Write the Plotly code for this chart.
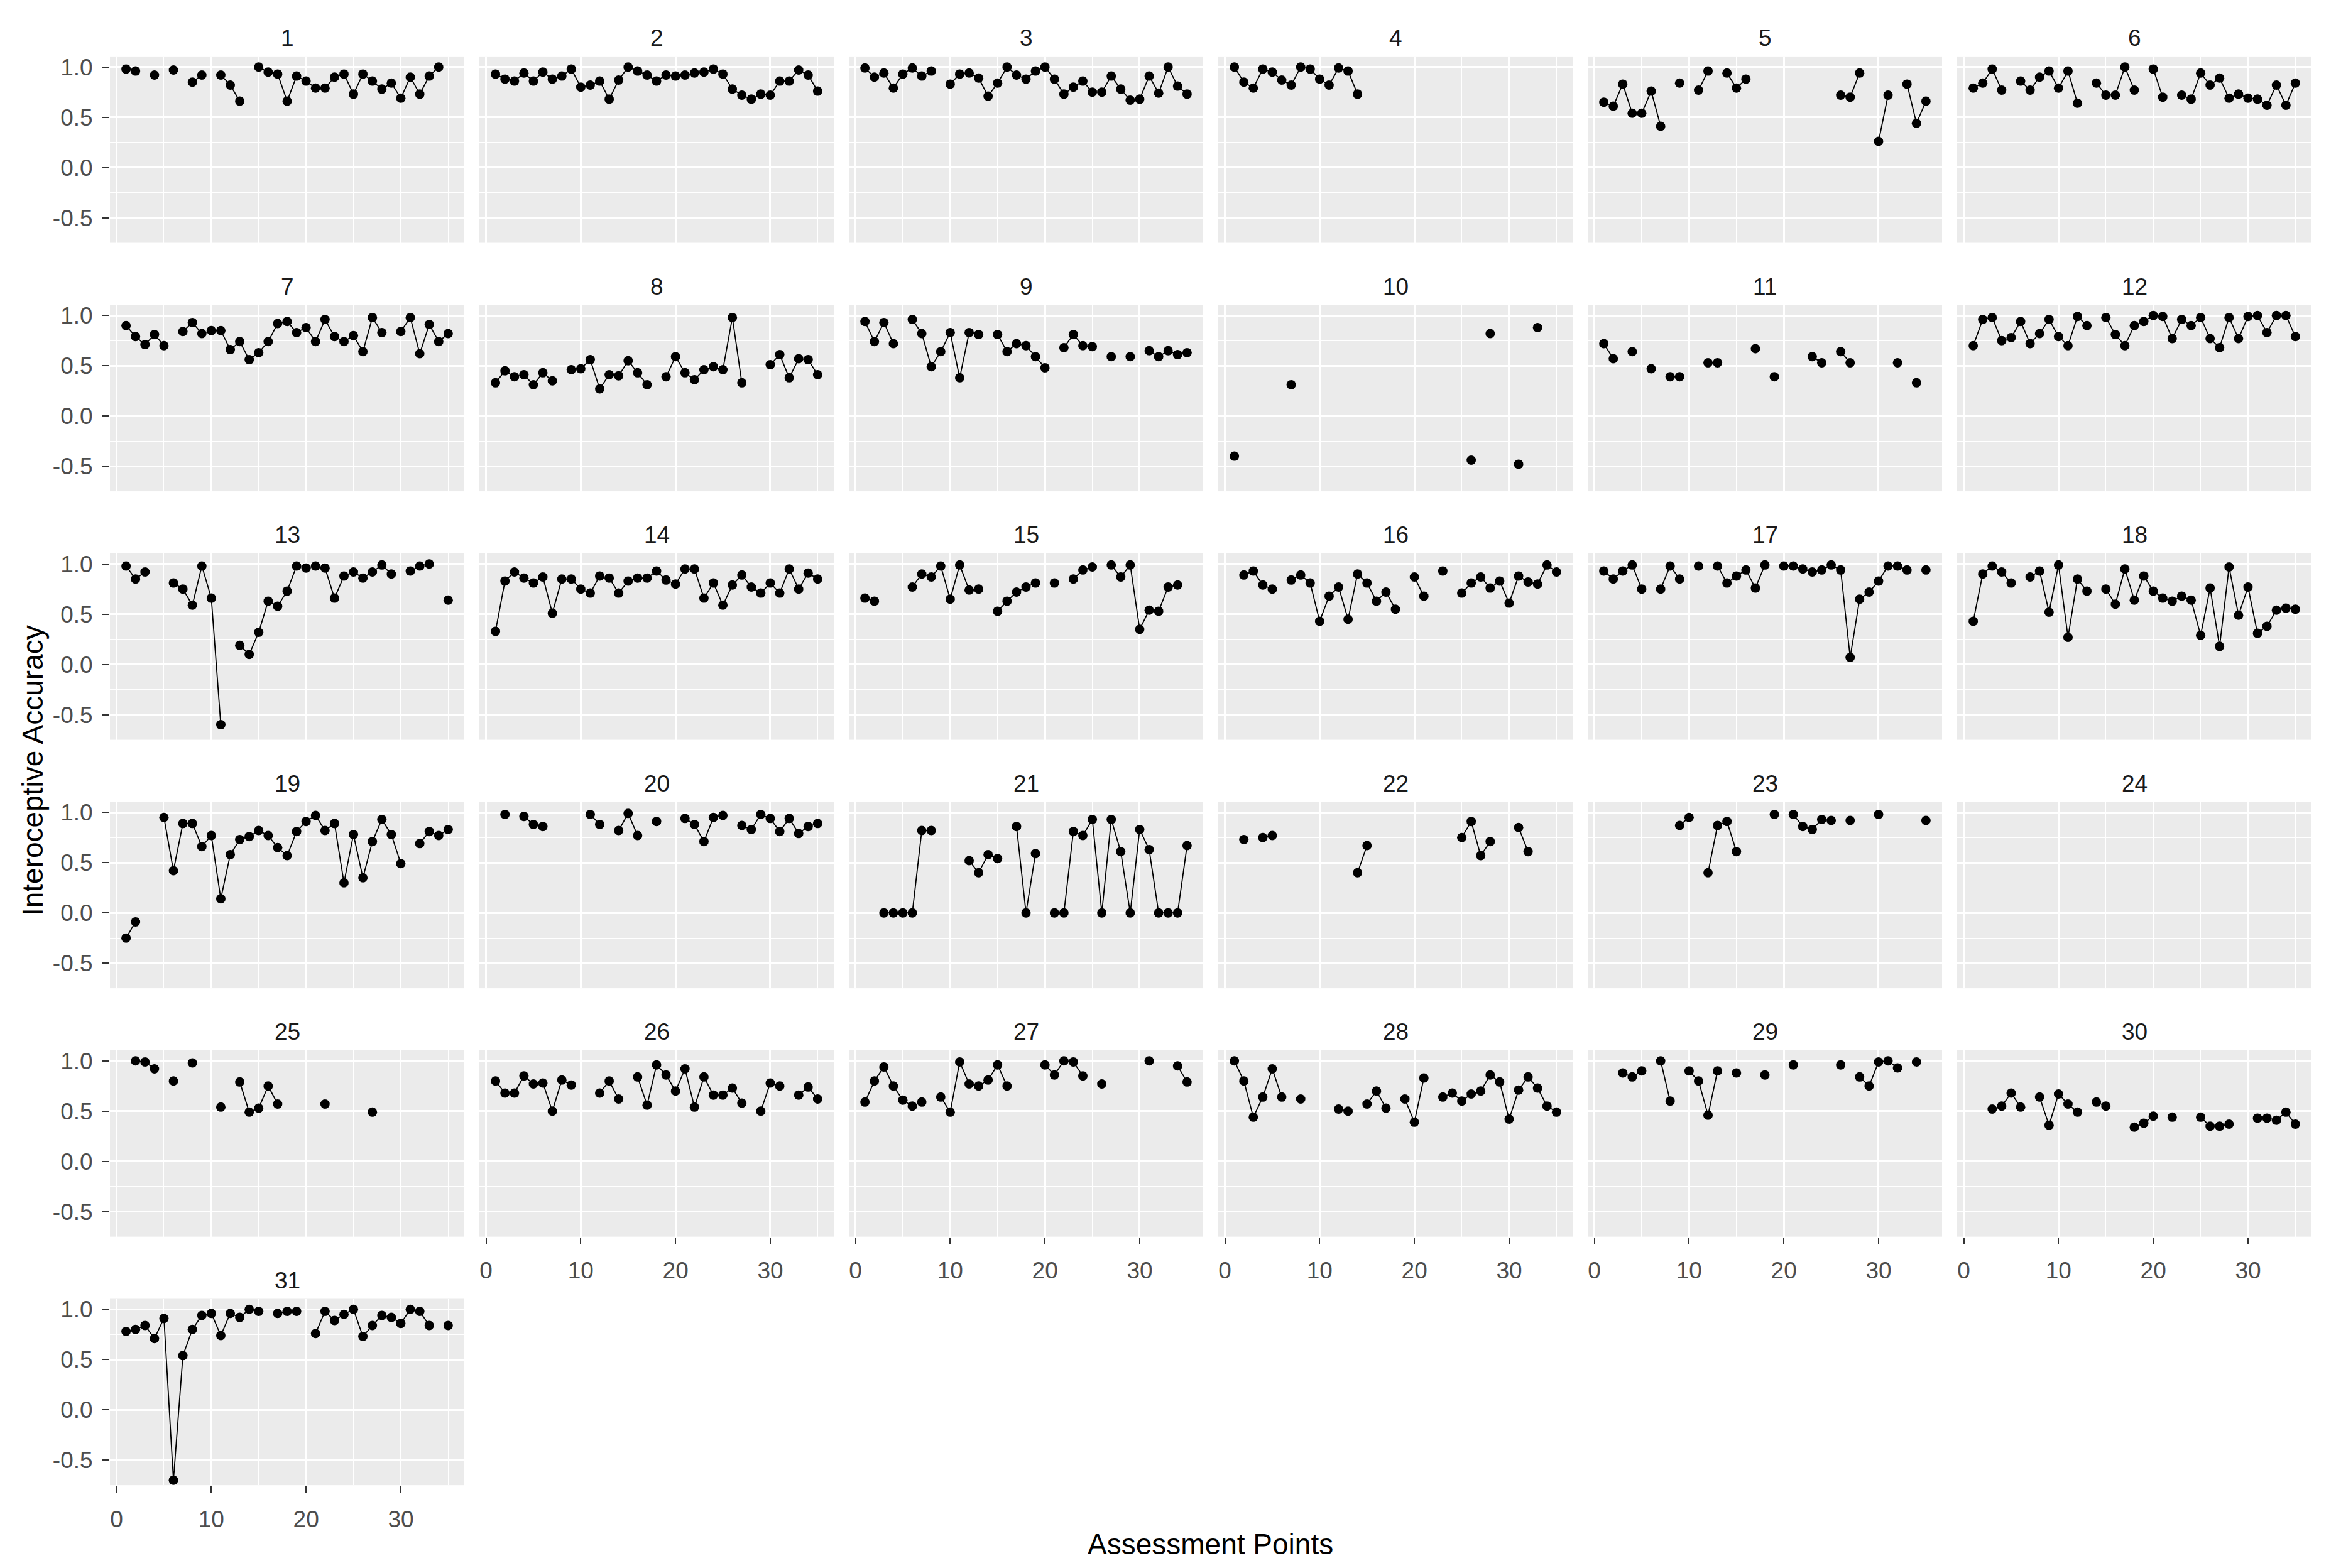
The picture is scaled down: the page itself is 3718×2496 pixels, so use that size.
import plotly.graph_objects as go

N = None

# assessment points 1..35 (x of every panel)
assessment_points = list(range(1, 36))
panel_labels = [str(i) for i in range(1, 32)]
x_ticks = [0, 10, 20, 30]
y_ticks = [-0.5, 0.0, 0.5, 1.0]
y_tick_text = ["-0.5", "0.0", "0.5", "1.0"]

# interoceptive accuracy per participant, one value per assessment point (None = missing)
p01 = [0.98, 0.96, N, 0.92, N, 0.97, N, 0.85, 0.92, N,
       0.92, 0.82, 0.66, N, 1.00, 0.95, 0.93, 0.66, 0.91, 0.86,
       0.79, 0.79, 0.90, 0.93, 0.73, 0.93, 0.86, 0.78, 0.84, 0.69,
       0.90, 0.73, 0.91, 1.00, N]
p02 = [0.93, 0.88, 0.86, 0.94, 0.86, 0.95, 0.88, 0.91, 0.98, 0.80,
       0.82, 0.86, 0.68, 0.87, 1.00, 0.96, 0.92, 0.86, 0.92, 0.91,
       0.92, 0.94, 0.95, 0.98, 0.93, 0.78, 0.72, 0.68, 0.73, 0.72,
       0.86, 0.86, 0.97, 0.92, 0.76]
p03 = [0.99, 0.90, 0.94, 0.79, 0.93, 0.99, 0.91, 0.96, N, 0.83,
       0.93, 0.94, 0.89, 0.71, 0.84, 1.00, 0.92, 0.88, 0.96, 1.00,
       0.88, 0.73, 0.80, 0.86, 0.75, 0.75, 0.91, 0.78, 0.67, 0.68,
       0.91, 0.74, 1.00, 0.81, 0.73]
p04 = [1.00, 0.85, 0.79, 0.98, 0.95, 0.87, 0.82, 1.00, 0.98, 0.88,
       0.82, 0.99, 0.96, 0.73, N, N, N, N, N, N,
       N, N, N, N, N, N, N, N, N, N,
       N, N, N, N, N]
p05 = [0.65, 0.61, 0.83, 0.54, 0.54, 0.76, 0.41, N, 0.84, N,
       0.77, 0.96, N, 0.94, 0.79, 0.88, N, N, N, N,
       N, N, N, N, N, 0.72, 0.70, 0.94, N, 0.26,
       0.72, N, 0.83, 0.44, 0.66]
p06 = [0.79, 0.84, 0.98, 0.77, N, 0.86, 0.77, 0.90, 0.96, 0.79,
       0.96, 0.64, N, 0.84, 0.72, 0.72, 1.00, 0.77, N, 0.98,
       0.70, N, 0.72, 0.68, 0.94, 0.82, 0.89, 0.69, 0.73, 0.69,
       0.68, 0.62, 0.82, 0.62, 0.84]
p07 = [0.90, 0.79, 0.71, 0.81, 0.70, N, 0.84, 0.93, 0.82, 0.85,
       0.85, 0.66, 0.74, 0.56, 0.63, 0.74, 0.92, 0.94, 0.83, 0.88,
       0.74, 0.96, 0.79, 0.74, 0.80, 0.64, 0.98, 0.83, N, 0.84,
       0.98, 0.62, 0.91, 0.74, 0.82]
p08 = [0.33, 0.45, 0.39, 0.41, 0.31, 0.43, 0.35, N, 0.46, 0.47,
       0.56, 0.27, 0.41, 0.40, 0.55, 0.43, 0.31, N, 0.39, 0.59,
       0.43, 0.36, 0.46, 0.49, 0.46, 0.98, 0.33, N, N, 0.51,
       0.61, 0.38, 0.57, 0.56, 0.41]
p09 = [0.94, 0.74, 0.93, 0.72, N, 0.96, 0.82, 0.49, 0.64, 0.83,
       0.38, 0.83, 0.81, N, 0.81, 0.64, 0.72, 0.70, 0.59, 0.48,
       N, 0.68, 0.81, 0.70, 0.69, N, 0.59, N, 0.59, N,
       0.65, 0.59, 0.65, 0.61, 0.63]
p10 = [-0.40, N, N, N, N, N, 0.31, N, N, N,
       N, N, N, N, N, N, N, N, N, N,
       N, N, N, N, N, -0.44, N, 0.82, N, N,
       -0.48, N, 0.88, N, N]
p11 = [0.72, 0.57, N, 0.64, N, 0.47, N, 0.39, 0.39, N,
       N, 0.53, 0.53, N, N, N, 0.67, N, 0.39, N,
       N, N, 0.59, 0.53, N, 0.64, 0.53, N, N, N,
       N, 0.53, N, 0.33, N]
p12 = [0.70, 0.96, 0.98, 0.75, 0.78, 0.94, 0.72, 0.82, 0.96, 0.79,
       0.70, 0.99, 0.90, N, 0.98, 0.81, 0.70, 0.90, 0.94, 1.00,
       0.99, 0.77, 0.96, 0.90, 0.98, 0.77, 0.68, 0.98, 0.77, 0.99,
       1.00, 0.83, 1.00, 1.00, 0.79]
p13 = [0.98, 0.85, 0.92, N, N, 0.81, 0.75, 0.59, 0.98, 0.66,
       -0.60, N, 0.19, 0.10, 0.32, 0.63, 0.58, 0.73, 0.98, 0.96,
       0.98, 0.96, 0.66, 0.88, 0.92, 0.86, 0.92, 0.99, 0.90, N,
       0.93, 0.98, 1.00, N, 0.64]
p14 = [0.33, 0.83, 0.92, 0.86, 0.81, 0.87, 0.51, 0.85, 0.85, 0.75,
       0.71, 0.88, 0.86, 0.71, 0.83, 0.86, 0.86, 0.93, 0.84, 0.80,
       0.95, 0.95, 0.66, 0.81, 0.59, 0.79, 0.89, 0.77, 0.71, 0.81,
       0.71, 0.95, 0.75, 0.91, 0.85]
p15 = [0.66, 0.63, N, N, N, 0.77, 0.90, 0.87, 0.98, 0.65,
       0.99, 0.74, 0.75, N, 0.53, 0.63, 0.72, 0.77, 0.81, N,
       0.81, N, 0.85, 0.94, 0.97, N, 0.99, 0.87, 0.99, 0.35,
       0.54, 0.53, 0.77, 0.79, N]
p16 = [N, 0.89, 0.93, 0.79, 0.75, N, 0.84, 0.89, 0.81, 0.43,
       0.68, 0.77, 0.45, 0.90, 0.81, 0.63, 0.72, 0.55, N, 0.87,
       0.68, N, 0.93, N, 0.71, 0.81, 0.87, 0.76, 0.83, 0.61,
       0.88, 0.82, 0.80, 0.99, 0.92]
p17 = [0.93, 0.85, 0.93, 0.99, 0.75, N, 0.75, 0.98, 0.85, N,
       0.98, N, 0.98, 0.81, 0.88, 0.94, 0.76, 0.99, N, 0.98,
       0.98, 0.95, 0.92, 0.94, 0.99, 0.94, 0.07, 0.65, 0.72, 0.83,
       0.98, 0.98, 0.94, N, 0.94]
p18 = [0.43, 0.90, 0.98, 0.92, 0.81, N, 0.87, 0.93, 0.52, 0.99,
       0.27, 0.85, 0.73, N, 0.75, 0.60, 0.95, 0.64, 0.88, 0.73,
       0.66, 0.63, 0.68, 0.64, 0.29, 0.76, 0.18, 0.97, 0.49, 0.77,
       0.31, 0.38, 0.54, 0.56, 0.55]
p19 = [-0.25, -0.09, N, N, 0.95, 0.42, 0.89, 0.89, 0.66, 0.77,
       0.14, 0.58, 0.73, 0.76, 0.82, 0.77, 0.65, 0.57, 0.81, 0.91,
       0.97, 0.82, 0.89, 0.30, 0.78, 0.35, 0.71, 0.93, 0.78, 0.49,
       N, 0.69, 0.81, 0.77, 0.83]
p20 = [N, 0.98, N, 0.96, 0.88, 0.86, N, N, N, N,
       0.98, 0.88, N, 0.82, 0.99, 0.77, N, 0.91, N, N,
       0.94, 0.88, 0.71, 0.95, 0.97, N, 0.87, 0.83, 0.98, 0.94,
       0.81, 0.94, 0.79, 0.86, 0.89]
p21 = [N, N, 0.00, 0.00, 0.00, 0.00, 0.82, 0.82, N, N,
       N, 0.52, 0.40, 0.58, 0.54, N, 0.86, 0.00, 0.59, N,
       0.00, 0.00, 0.81, 0.77, 0.93, 0.00, 0.93, 0.61, 0.00, 0.83,
       0.63, 0.00, 0.00, 0.00, 0.67]
p22 = [N, 0.73, N, 0.75, 0.77, N, N, N, N, N,
       N, N, N, 0.40, 0.67, N, N, N, N, N,
       N, N, N, N, 0.75, 0.91, 0.57, 0.71, N, N,
       0.85, 0.61, N, N, N]
p23 = [N, N, N, N, N, N, N, N, 0.87, 0.95,
       N, 0.40, 0.87, 0.91, 0.61, N, N, N, 0.98, N,
       0.98, 0.86, 0.83, 0.93, 0.92, N, 0.92, N, N, 0.98,
       N, N, N, N, 0.92]
p24 = [N] * 35
p25 = [N, 1.00, 0.99, 0.92, N, 0.80, N, 0.98, N, N,
       0.54, N, 0.79, 0.49, 0.53, 0.75, 0.57, N, N, N,
       N, 0.57, N, N, N, N, 0.49, N, N, N,
       N, N, N, N, N]
p26 = [0.80, 0.68, 0.68, 0.85, 0.77, 0.78, 0.50, 0.81, 0.76, N,
       N, 0.68, 0.80, 0.62, N, 0.84, 0.56, 0.96, 0.86, 0.70,
       0.92, 0.54, 0.84, 0.66, 0.66, 0.73, 0.58, N, 0.50, 0.78,
       0.75, N, 0.66, 0.74, 0.62]
p27 = [0.59, 0.80, 0.94, 0.75, 0.61, 0.55, 0.59, N, 0.64, 0.49,
       0.99, 0.77, 0.75, 0.81, 0.96, 0.75, N, N, N, 0.96,
       0.86, 1.00, 0.99, 0.85, N, 0.77, N, N, N, N,
       1.00, N, N, 0.95, 0.79]
p28 = [1.00, 0.80, 0.44, 0.64, 0.92, 0.64, N, 0.62, N, N,
       N, 0.52, 0.50, N, 0.57, 0.70, 0.53, N, 0.62, 0.39,
       0.83, N, 0.64, 0.68, 0.60, 0.67, 0.70, 0.86, 0.79, 0.42,
       0.71, 0.84, 0.73, 0.55, 0.49]
p29 = [N, N, 0.88, 0.84, 0.90, N, 1.00, 0.60, N, 0.90,
       0.80, 0.46, 0.90, N, 0.88, N, N, 0.86, N, N,
       0.96, N, N, N, N, 0.96, N, 0.84, 0.75, 0.99,
       1.00, 0.93, N, 0.99, N]
p30 = [N, N, 0.52, 0.55, 0.68, 0.54, N, 0.64, 0.36, 0.67,
       0.57, 0.49, N, 0.59, 0.55, N, N, 0.34, 0.38, 0.45,
       N, 0.44, N, N, 0.44, 0.35, 0.35, 0.37, N, N,
       0.43, 0.43, 0.41, 0.49, 0.37]
p31 = [0.78, 0.80, 0.84, 0.71, 0.91, -0.70, 0.54, 0.80, 0.94, 0.96,
       0.74, 0.96, 0.92, 1.00, 0.98, N, 0.96, 0.98, 0.98, N,
       0.76, 0.98, 0.89, 0.95, 1.00, 0.73, 0.84, 0.94, 0.92, 0.86,
       1.00, 0.98, 0.84, N, 0.84]

participants = [p01, p02, p03, p04, p05, p06, p07, p08, p09, p10,
                p11, p12, p13, p14, p15, p16, p17, p18, p19, p20,
                p21, p22, p23, p24, p25, p26, p27, p28, p29, p30, p31]

# the page body has an 8px margin, so the figure starts 8px in and is 16px smaller
W, H = 3702, 2480
OFF = 8
NCOL = 6
PANEL_W, PANEL_H = 564, 297
COL_STEP, ROW_STEP = 588, 396
LEFT0, TOP0 = 175 - OFF, 87 - OFF

FONT = "Liberation Sans, Arial, sans-serif"
TICK_FONT = dict(family=FONT, size=37, color="#4D4D4D")

fig = go.Figure()
annotations = []
n = len(participants)

for i, values in enumerate(participants):
    r, c = divmod(i, NCOL)
    k = i + 1
    sfx = "" if k == 1 else str(k)
    left = LEFT0 + COL_STEP * c
    top = TOP0 + ROW_STEP * r
    x_dom = [left / W, (left + PANEL_W) / W]
    y_dom = [1 - (top + PANEL_H) / H, 1 - top / H]
    bottom = i + NCOL >= n      # nothing below -> draw x axis
    first_col = c == 0

    fig.add_trace(go.Scatter(
        x=assessment_points, y=values, mode="lines+markers",
        xaxis="x" + sfx, yaxis="y" + sfx,
        line=dict(color="black", width=1.8),
        marker=dict(color="black", size=15),
        connectgaps=False, showlegend=False,
    ))

    fig.layout["xaxis" + sfx] = dict(
        domain=x_dom, anchor="y" + sfx, range=[-0.7, 36.7],
        tickvals=x_ticks, showticklabels=bottom,
        ticks="outside" if bottom else "", ticklen=11, tickwidth=2.4,
        tickcolor="#333333", ticklabelstandoff=10, tickfont=TICK_FONT,
        showgrid=True, gridcolor="white", gridwidth=2.6, zeroline=False,
        showline=False,
        minor=dict(tickvals=[5, 15, 25, 35], showgrid=True,
                   gridcolor="white", gridwidth=1.3),
    )
    fig.layout["yaxis" + sfx] = dict(
        domain=y_dom, anchor="x" + sfx, range=[-0.75, 1.105],
        tickvals=y_ticks, ticktext=y_tick_text, showticklabels=first_col,
        ticks="outside" if first_col else "", ticklen=11, tickwidth=2.4,
        tickcolor="#333333", ticklabelstandoff=8, tickfont=TICK_FONT,
        showgrid=True, gridcolor="white", gridwidth=2.6, zeroline=False,
        showline=False,
        minor=dict(tickvals=[-0.25, 0.25, 0.75], showgrid=True,
                   gridcolor="white", gridwidth=1.3),
    )

    annotations.append(dict(
        text=panel_labels[i], xref="paper", yref="paper",
        x=(x_dom[0] + x_dom[1]) / 2, y=y_dom[1], yshift=29,
        xanchor="center", yanchor="middle", showarrow=False,
        font=dict(family=FONT, size=37, color="#1A1A1A"),
    ))

annotations.append(dict(
    text="Assessment Points", xref="paper", yref="paper",
    x=(LEFT0 + (LEFT0 + COL_STEP * 5 + PANEL_W)) / 2 / W, y=1 - (2458 - OFF) / H,
    xanchor="center", yanchor="middle", showarrow=False, borderpad=0,
    font=dict(family=FONT, size=46, color="black"),
))
annotations.append(dict(
    text="Interoceptive Accuracy", xref="paper", yref="paper",
    x=(52 - OFF) / W, y=1 - (TOP0 + (TOP0 + ROW_STEP * 5 + PANEL_H)) / 2 / H,
    xanchor="center", yanchor="middle", textangle=-90, showarrow=False,
    font=dict(family=FONT, size=46, color="black"),
))

fig.update_layout(
    width=W, height=H,
    margin=dict(l=0, r=0, t=0, b=0),
    paper_bgcolor="white", plot_bgcolor="#EBEBEB",
    annotations=annotations,
    showlegend=False,
)

fig.write_html("out.html")
